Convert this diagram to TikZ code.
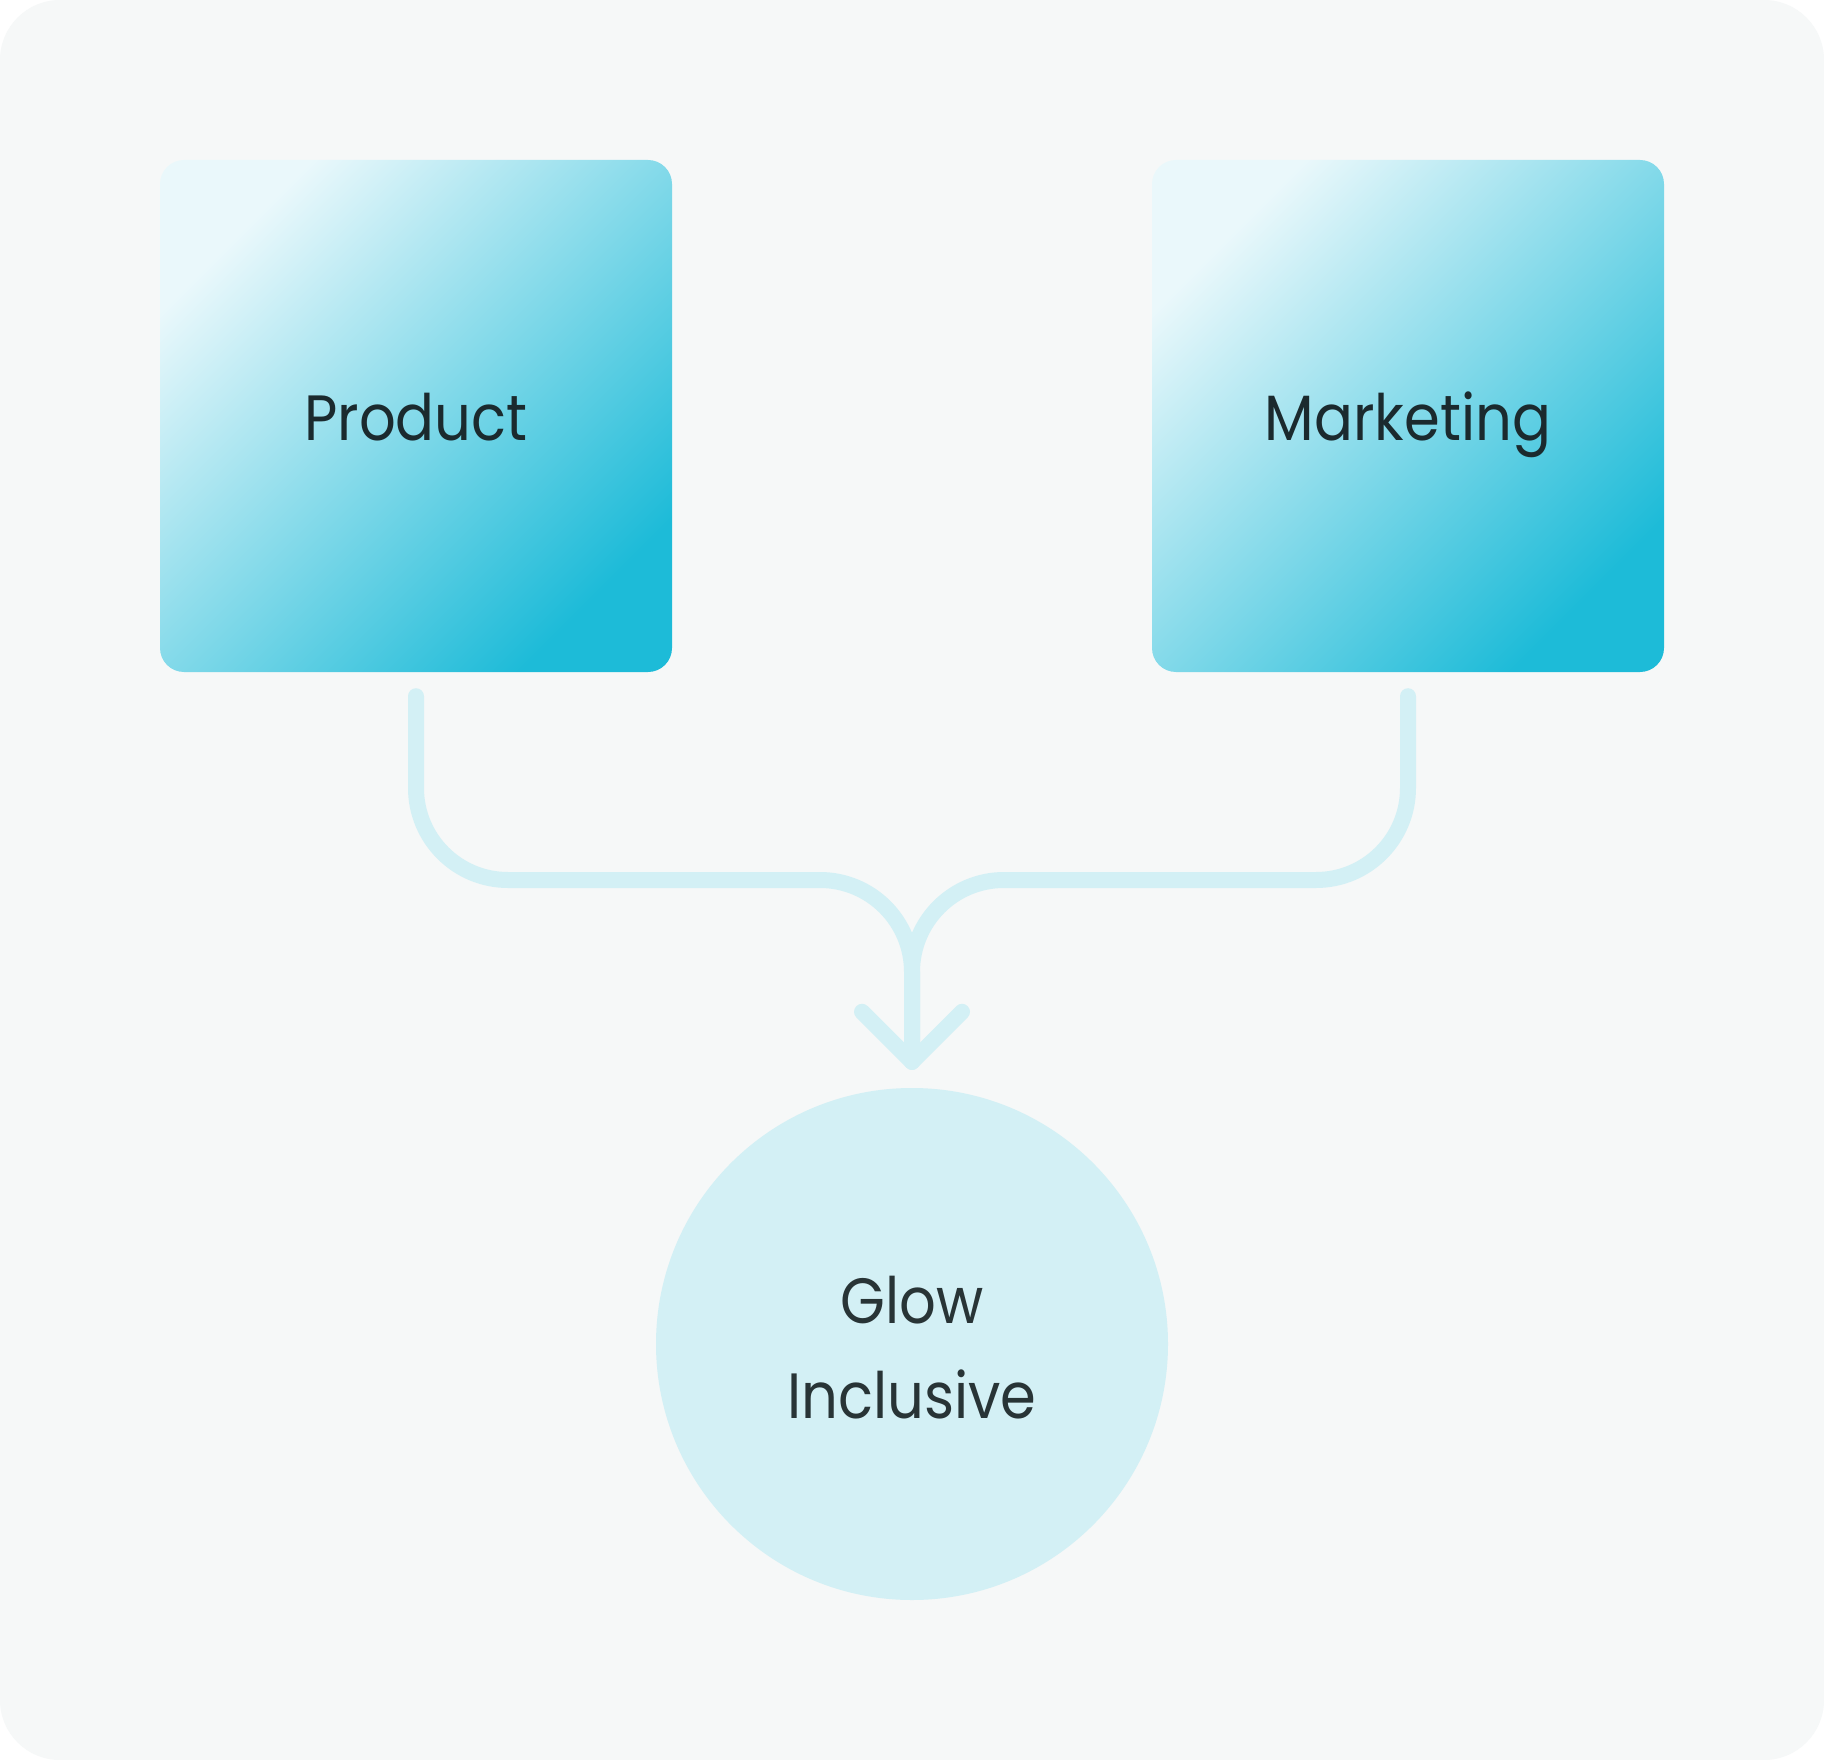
\documentclass[tikz,border=0pt]{standalone}
\usepackage{fontspec}
\setmainfont{Poppins}[FakeStretch=0.9]
\definecolor{bgc}{HTML}{F6F8F8}
\definecolor{conncol}{HTML}{D3F0F5}
\definecolor{lightc}{HTML}{EAF8FB}
\definecolor{darkc}{HTML}{1DBBD8}
\definecolor{txtc}{HTML}{1B2A2E}
\definecolor{txtb}{HTML}{283436}
\tikzset{
  boxnode/.style={rectangle, rounded corners=24pt, minimum width=512pt, minimum height=512pt,
    inner sep=0pt, top color=lightc, bottom color=darkc, shading angle=45,
    font=\fontsize{64}{76}\selectfont, text=txtc, text height=50pt, text depth=0pt},
  glownode/.style={circle, fill=conncol, minimum size=512pt, inner sep=0pt},
  glowtext/.style={align=center, font=\fontsize{64}{95}\selectfont, text=txtb, inner sep=0pt},
  conn/.style={draw=conncol, line width=16pt, line cap=round, line join=round, rounded corners=92pt},
  arrowarm/.style={draw=conncol, line width=16pt, line cap=round, line join=round}
}
\begin{document}
\begin{tikzpicture}[x=1pt,y=-1pt]
\useasboundingbox (0,0) rectangle (1824,1760);
\fill[white] (0,0) rectangle (1824,1760);
\fill[bgc, rounded corners=60pt] (0,0) rectangle (1824,1760);
\node[boxnode] (prod) at (416,416) {Product};
\node[boxnode] (mark) at (1408,416) {Marketing};
\node[glownode] (glow) at (912,1344) {};
\node[glowtext] (glowlbl) at (912,1348) {Glow\\Inclusive};
\coordinate (ps) at ([yshift=-24pt]prod.south);
\coordinate (ms) at ([yshift=-24pt]mark.south);
\coordinate (tip) at ([yshift=26pt]glow.north);
\coordinate (mid) at (tip |- 0,880);
\draw[conn] (ps) |- (mid) -- (tip);
\draw[conn] (ms) |- (mid) -- (tip);
\draw[arrowarm] ([xshift=-50pt,yshift=50pt]tip) -- (tip) -- ([xshift=50pt,yshift=50pt]tip);
\end{tikzpicture}
\end{document}
